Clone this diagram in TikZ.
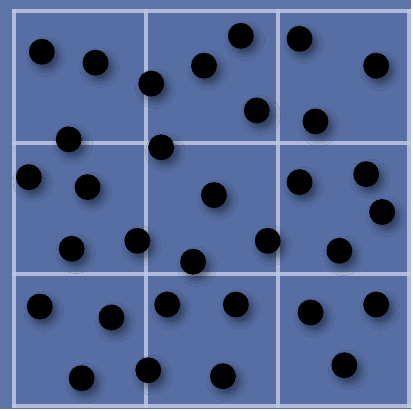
\documentclass[tikz,border=0pt]{standalone}
\usepackage{tikz}
\usetikzlibrary{shadows.blur}
\definecolor{bgBlue}{RGB}{92, 116, 168}
\definecolor{cellBlue}{RGB}{86, 110, 163}
\definecolor{gridLine}{RGB}{190, 200, 226}

\begin{document}
\begin{tikzpicture}[x=1pt, y=-1pt,
      dot/.style={circle, fill=black, minimum size=26pt, inner sep=0pt,
                  blur shadow={shadow xshift=4pt, shadow yshift=-5pt,
                               shadow blur radius=7pt, shadow opacity=45}},
      gridline/.style={draw=gridLine, line width=4pt, opacity=0.85}]
    \fill[bgBlue] (0,0) rectangle (413,411);
    \fill[cellBlue] (13,10) rectangle (411,409);
    \foreach \k in {0,1,2,3} {
      \draw[gridline] (14.5+132.3*\k,9) -- (14.5+132.3*\k,410);
      \draw[gridline] (12.5,11+132.3*\k) -- (413,11+132.3*\k);
    }
    \foreach \x/\y [count=\i] in {42/52, 96/63, 152/84, 205/66, 242/36, 301/39,
        378/66, 258/111, 317/122, 69/140, 162/148, 29/178, 88/188, 215/196,
        301/183, 368/175, 384/213, 72/250, 138/242, 194/263, 269/242, 341/252,
        40/308, 112/319, 168/306, 237/306, 312/314, 378/306, 82/380, 149/372,
        224/378, 346/367}
      \node[dot] (d\i) at (\x,\y) {};
\end{tikzpicture}
\end{document}
